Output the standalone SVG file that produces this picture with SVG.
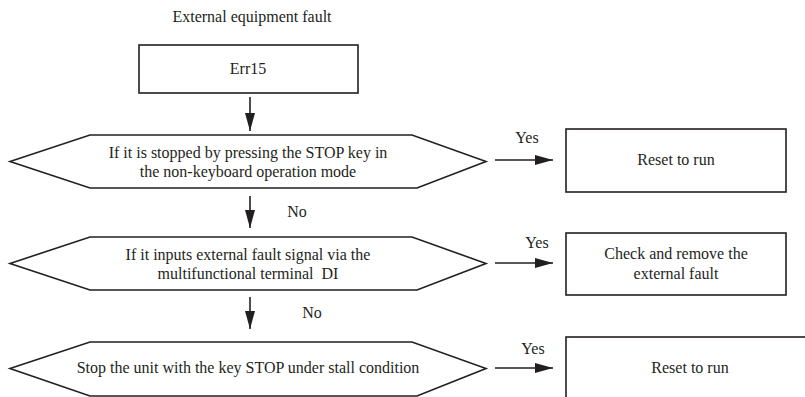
<svg xmlns="http://www.w3.org/2000/svg" width="805" height="397" viewBox="0 0 805 397">
<defs>
<style>
.s{fill:#fff;stroke:#231f20;stroke-width:1.6}
.c{stroke:#231f20;stroke-width:1.6;fill:none}
.t{fill:#231f20;text-anchor:middle}
</style>
<marker id="ah" viewBox="0 0 18 10" refX="18" refY="5" markerWidth="18" markerHeight="10" markerUnits="userSpaceOnUse" orient="auto">
<path d="M0,0 L18,5 L0,10 Z" fill="#231f20"/>
</marker>
</defs>
<rect width="805" height="397" fill="#fff"/>
<g font-family="'Liberation Serif', 'Times New Roman', serif" font-size="16">
<text class="t" x="252" y="22">External equipment fault</text>
<g id="err15">
<rect class="s" x="139" y="45" width="219" height="48"/>
<text class="t" x="248" y="74">Err15</text>
</g>
<g id="q1">
<polygon class="s" points="10,161.5 90,135 412,135 486,161.5 417,188 90,188"/>
<text class="t" x="248" y="158">If it is stopped by pressing the STOP key in</text>
<text class="t" x="248" y="177">the non-keyboard operation mode</text>
</g>
<g id="r1">
<rect class="s" x="566" y="129" width="220" height="63"/>
<text class="t" x="676" y="165">Reset to run</text>
</g>
<g id="q2">
<polygon class="s" points="10,263.5 90,237 412,237 486,263.5 417,290 90,290"/>
<text class="t" x="248" y="260">If it inputs external fault signal via the</text>
<text class="t" x="248" y="279" xml:space="preserve">multifunctional terminal  DI</text>
</g>
<g id="r2">
<rect class="s" x="566" y="233" width="220" height="62"/>
<text class="t" x="676" y="259">Check and remove the</text>
<text class="t" x="676" y="279">external fault</text>
</g>
<g id="q3">
<polygon class="s" points="10,368.5 90,342 412,342 486,368.5 417,396 90,396"/>
<text class="t" x="248" y="373">Stop the unit with the key STOP under stall condition</text>
</g>
<g id="r3">
<rect class="s" x="566" y="337" width="260" height="80"/>
<text class="t" x="690" y="373">Reset to run</text>
</g>
<g id="connectors">
<line class="c" x1="250" y1="97" x2="250" y2="131" marker-end="url(#ah)"/>
<line class="c" x1="250" y1="196" x2="250" y2="228" marker-end="url(#ah)"/>
<line class="c" x1="250" y1="297" x2="250" y2="329" marker-end="url(#ah)"/>
<line class="c" x1="495" y1="160" x2="553" y2="160" marker-end="url(#ah)"/>
<line class="c" x1="495" y1="263" x2="553" y2="263" marker-end="url(#ah)"/>
<line class="c" x1="495" y1="368" x2="553" y2="368" marker-end="url(#ah)"/>
<text class="t" x="527" y="143">Yes</text>
<text class="t" x="537" y="248">Yes</text>
<text class="t" x="533" y="354">Yes</text>
<text class="t" x="297" y="217">No</text>
<text class="t" x="312" y="318">No</text>
</g>
</g>
</svg>
